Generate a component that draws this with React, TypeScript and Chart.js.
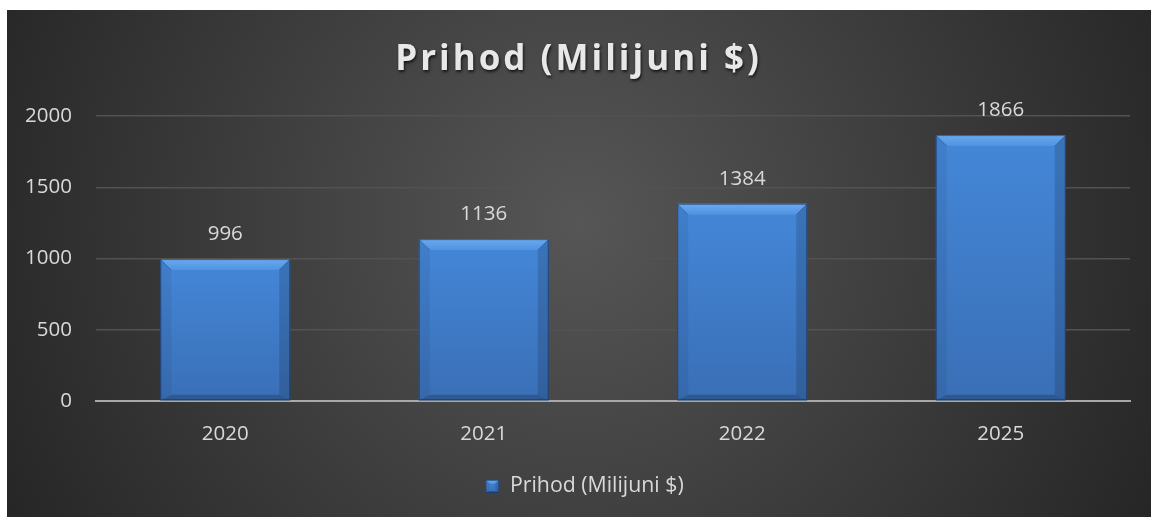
import React, { useEffect, useRef } from 'react';
import { Chart, registerables } from 'chart.js';

Chart.register(...registerables);

const categories = ['2020', '2021', '2022', '2025'];
const revenue = [996, 1136, 1384, 1866];
const seriesLabel = 'Prihod (Milijuni $)';
const titleText = 'Prihod (Milijuni $)';
const yTicks = [0, 500, 1000, 1500, 2000];

const FONT = '"Open Sans", "Noto Sans", sans-serif';

function drawBevelRect(ctx: CanvasRenderingContext2D, left: number, top: number, width: number, height: number, b: number) {
  const right = left + width;
  const bottom = top + height;
  const g = ctx.createLinearGradient(0, top, 0, bottom);
  g.addColorStop(0, '#4487d8');
  g.addColorStop(1, '#3a6fb6');
  ctx.fillStyle = g;
  ctx.fillRect(left, top, width, height);
  const bb = Math.min(b, width / 2, height / 2);
  // top bevel
  const tg = ctx.createLinearGradient(0, top, 0, top + bb);
  tg.addColorStop(0, '#6aaaf0');
  tg.addColorStop(1, '#4f92e0');
  ctx.fillStyle = tg;
  ctx.beginPath();
  ctx.moveTo(left, top);
  ctx.lineTo(right, top);
  ctx.lineTo(right - bb, top + bb);
  ctx.lineTo(left + bb, top + bb);
  ctx.closePath();
  ctx.fill();
  // left bevel
  ctx.fillStyle = 'rgba(0,0,0,0.06)';
  ctx.beginPath();
  ctx.moveTo(left, top);
  ctx.lineTo(left + bb, top + bb);
  ctx.lineTo(left + bb, bottom - bb * 0.5);
  ctx.lineTo(left, bottom);
  ctx.closePath();
  ctx.fill();
  // right bevel
  ctx.fillStyle = 'rgba(0,0,0,0.14)';
  ctx.beginPath();
  ctx.moveTo(right, top);
  ctx.lineTo(right - bb, top + bb);
  ctx.lineTo(right - bb, bottom - bb * 0.5);
  ctx.lineTo(right, bottom);
  ctx.closePath();
  ctx.fill();
  // bottom bevel
  ctx.fillStyle = 'rgba(0,0,0,0.2)';
  ctx.beginPath();
  ctx.moveTo(left, bottom);
  ctx.lineTo(left + bb, bottom - bb * 0.5);
  ctx.lineTo(right - bb, bottom - bb * 0.5);
  ctx.lineTo(right, bottom);
  ctx.closePath();
  ctx.fill();
  // corner diagonals
  ctx.strokeStyle = 'rgba(20,50,100,0.35)';
  ctx.lineWidth = 1;
  ctx.beginPath();
  ctx.moveTo(left, top);
  ctx.lineTo(left + bb, top + bb);
  ctx.moveTo(right, top);
  ctx.lineTo(right - bb, top + bb);
  ctx.stroke();
  // outline
  ctx.strokeStyle = 'rgba(15,35,70,0.55)';
  ctx.strokeRect(left + 0.5, top + 0.5, width - 1, height - 1);
}

function makeLegendSwatch(): HTMLCanvasElement {
  const c = document.createElement('canvas');
  c.width = 14;
  c.height = 13;
  const ctx = c.getContext('2d');
  if (ctx) drawBevelRect(ctx, 0, 0, 14, 13, 4);
  return c;
}

function wrapDraw(chart: any, box: any, fn: (c: CanvasRenderingContext2D) => void) {
  if (!box || box.__wrapped) return;
  const orig = box.draw.bind(box);
  box.draw = (area: any) => {
    const c = chart.ctx;
    c.save();
    fn(c);
    orig(area);
    c.restore();
  };
  box.__wrapped = true;
}

const backgroundPlugin = {
  id: 'bgPlugin',
  beforeDraw(chart: any) {
    const { ctx, width, height } = chart;
    ctx.save();
    const g = ctx.createRadialGradient(width / 2, height * 0.42, 0, width / 2, height * 0.42, width * 0.56);
    g.addColorStop(0, '#565656');
    g.addColorStop(1, '#262626');
    ctx.fillStyle = g;
    ctx.fillRect(0, 0, width, height);
    ctx.restore();
  },
  afterLayout(chart: any) {
    wrapDraw(chart, chart.titleBlock, (c) => {
      c.letterSpacing = '3px';
      c.shadowColor = 'rgba(0,0,0,0.7)';
      c.shadowBlur = 3;
      c.shadowOffsetX = 1;
      c.shadowOffsetY = 2;
      c.translate(10, 0);
    });
    wrapDraw(chart, chart.legend, (c) => {
      c.translate(16, 0);
    });
  },
};

const bevelBarPlugin = {
  id: 'bevelBars',
  afterDatasetsDraw(chart: any) {
    const ctx = chart.ctx;
    const meta = chart.getDatasetMeta(0);
    ctx.save();
    meta.data.forEach((el: any) => {
      const p = el.getProps(['x', 'y', 'base', 'width'], true);
      const left = p.x - p.width / 2;
      const top = Math.min(p.y, p.base);
      const h = Math.abs(p.base - p.y);
      drawBevelRect(ctx, left, top, p.width, h, 11);
    });
    // data labels
    ctx.font = `20.5px ${FONT}`;
    ctx.fillStyle = '#d9d9d9';
    ctx.textAlign = 'center';
    ctx.textBaseline = 'middle';
    const ds = chart.data.datasets[0];
    meta.data.forEach((el: any, i: number) => {
      const p = el.getProps(['x', 'y'], true);
      ctx.fillText(String(ds.data[i]), p.x, p.y - 25);
    });
    ctx.restore();
  },
};

export default function App() {
  const ref = useRef<HTMLCanvasElement | null>(null);
  useEffect(() => {
    if (!ref.current) return;
    const swatch = makeLegendSwatch();
    const chart = new Chart(ref.current, {
      type: 'bar',
      data: {
        labels: categories,
        datasets: [
          {
            label: seriesLabel,
            data: revenue,
            backgroundColor: 'rgba(0,0,0,0)',
            borderWidth: 0,
            barPercentage: 0.503,
            categoryPercentage: 1,
            pointStyle: swatch as any,
          },
        ],
      },
      options: {
        responsive: false,
        animation: false,
        layout: { padding: { left: 0, right: 21, top: 0, bottom: 10 } },
        plugins: {
          title: {
            display: true,
            text: titleText,
            color: '#e8e8e8',
            font: { family: FONT, size: 35, weight: 'bold' },
            padding: { top: 29, bottom: 35 },
          },
          legend: {
            display: true,
            position: 'bottom',
            labels: {
              usePointStyle: true,
              color: '#d9d9d9',
              font: { family: FONT, size: 21.3 },
              boxWidth: 14,
              boxHeight: 13,
              padding: 8,
            },
          },
          tooltip: { enabled: false },
        },
        scales: {
          x: {
            grid: { display: false, drawTicks: false },
            border: { display: true, color: '#a8a8a8', width: 2 },
            ticks: { color: '#d9d9d9', font: { family: FONT, size: 20.5 }, padding: 21 },
          },
          y: {
            min: 0,
            max: 2000,
            grid: { color: '#525252', lineWidth: 1.5, drawTicks: false },
            border: { display: false },
            afterBuildTicks: (axis: any) => {
              axis.ticks = yTicks.map((v) => ({ value: v }));
            },
            afterFit: (scale: any) => {
              scale.width = 89;
            },
            ticks: {
              color: '#d9d9d9',
              font: { family: FONT, size: 20.5 },
              padding: 24,
              callback: (v: any) => String(v),
            },
          },
        },
      },
      plugins: [backgroundPlugin, bevelBarPlugin],
    });
    return () => chart.destroy();
  }, []);
  return (
    <div style={{ position: 'absolute', left: 7, top: 10, width: 1144, height: 507 }}>
      <canvas ref={ref} width={1144} height={507} />
    </div>
  );
}
